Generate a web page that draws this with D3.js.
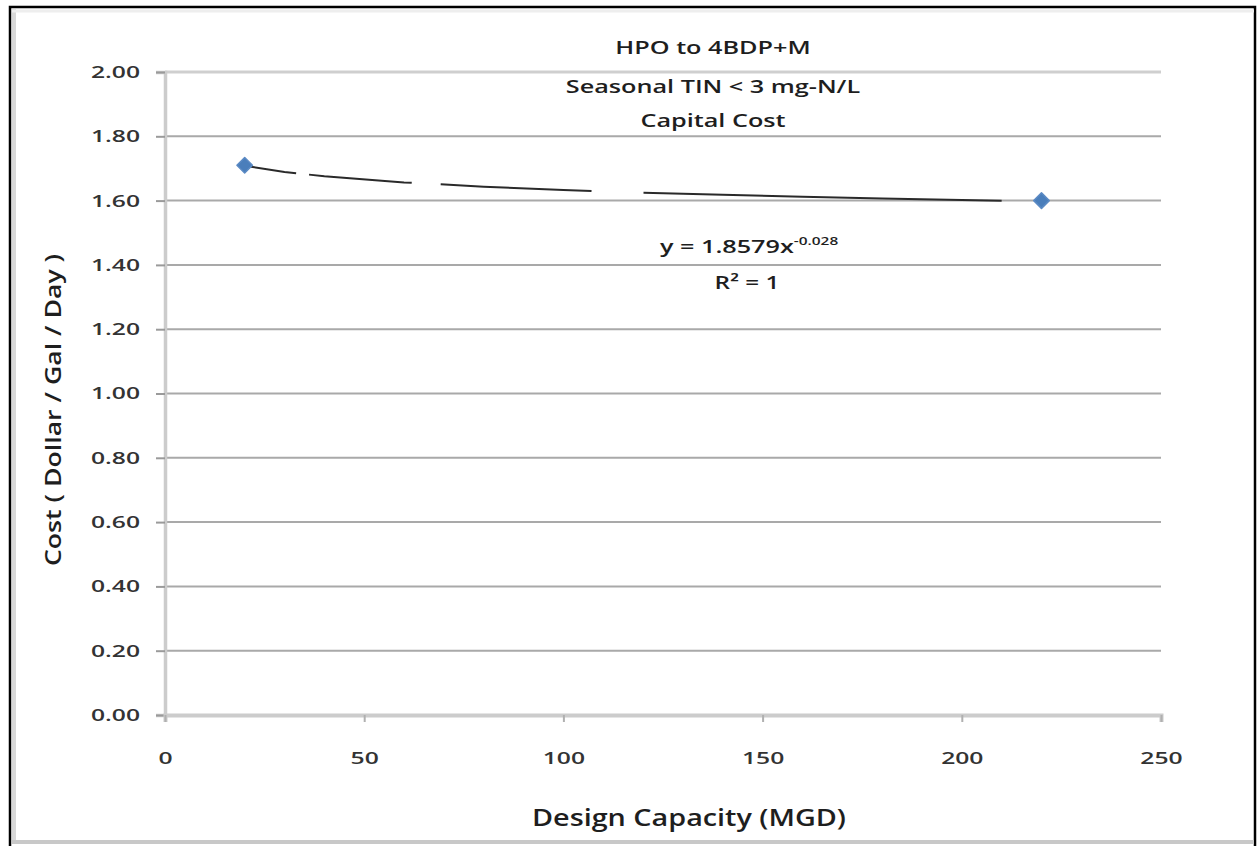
<!DOCTYPE html>
<html>
<head>
<meta charset="utf-8">
<script src="https://cdn.jsdelivr.net/npm/d3@7"></script>
<style>
html,body{margin:0;padding:0;background:#fff;}
svg{display:block;}
</style>
</head>
<body>
<svg id="chart" width="1257" height="846"></svg>
<script>
// ---- data ----
const titleLines = ["HPO to 4BDP+M", "Seasonal TIN < 3 mg-N/L", "Capital Cost"];
const capacity = [20, 220];          // Design Capacity (MGD)
const cost = [1.71, 1.60];           // Cost ($/gal/day)
const xTicks = [0, 50, 100, 150, 200, 250];
const yTicks = [0, 0.2, 0.4, 0.6, 0.8, 1.0, 1.2, 1.4, 1.6, 1.8, 2.0];
const trendCoef = 1.8579;
const trendExp = -0.028;
const trendSamples = [20, 30, 40, 60, 80, 100, 120, 140, 160, 180, 200, 210];
const trendLabel = ["y = 1.8579x", "-0.028"];
const r2Label = "R² = 1";
const xTitle = "Design Capacity (MGD)";
const yTitle = "Cost  ( Dollar / Gal / Day )";

const svg = d3.select("#chart");
const x = d3.scaleLinear().domain([0, 250]).range([165, 1161]);
const y = d3.scaleLinear().domain([0, 2]).range([715, 72]);
const FONT = "'Open Sans', sans-serif";

function stretch(sel, k) {
  sel.each(function () {
    const w = this.getComputedTextLength();
    d3.select(this).attr("textLength", w * k).attr("lengthAdjust", "spacingAndGlyphs");
  });
}

// outer frame
svg.append("rect").attr("x", 10).attr("y", 7).attr("width", 1245).attr("height", 845)
  .attr("fill", "#fff").attr("stroke", "#000").attr("stroke-width", 2.5);
// inner shadow
svg.append("line").attr("x1", 14).attr("x2", 14).attr("y1", 9).attr("y2", 842)
  .attr("stroke", "#d8d8d8").attr("stroke-width", 4);
svg.append("line").attr("x1", 12).attr("x2", 1254).attr("y1", 842).attr("y2", 842)
  .attr("stroke", "#c8c8c8").attr("stroke-width", 4);
svg.append("line").attr("x1", 12).attr("x2", 1254).attr("y1", 11).attr("y2", 11)
  .attr("stroke", "#eeeeee").attr("stroke-width", 3);

// gridlines
svg.append("g").selectAll("line").data(yTicks.filter(d => d > 0)).join("line")
  .attr("x1", x(0)).attr("x2", x(250))
  .attr("y1", d => y(d)).attr("y2", d => y(d))
  .attr("stroke", d => d === 2 ? "#cfcfcf" : "#a9a9a9")
  .attr("stroke-width", d => d === 2 ? 3 : 2);

// y axis
const yAxis = svg.append("g").attr("transform", `translate(${x(0)},0)`)
  .call(d3.axisLeft(y).tickValues(yTicks).tickFormat(d3.format(".2f")).tickSize(9).tickPadding(16));
yAxis.select(".domain").attr("stroke", "#cccccc").attr("stroke-width", 3.5);
yAxis.selectAll(".tick line").attr("stroke", "#9a9a9a").attr("stroke-width", 2);
yAxis.selectAll("text").attr("fill", "#333")
  .style("font-family", FONT).style("font-size", "17px").style("font-weight", 600)
  .call(stretch, 1.45);

// x axis
const xAxis = svg.append("g").attr("transform", `translate(0,${y(0)})`)
  .call(d3.axisBottom(x).tickValues(xTicks).tickSize(7).tickPadding(30));
xAxis.select(".domain").attr("stroke", "#cccccc").attr("stroke-width", 4);
xAxis.selectAll(".tick line").attr("stroke", "#b0b0b0").attr("stroke-width", 2);
xAxis.selectAll("text").attr("fill", "#333")
  .style("font-family", FONT).style("font-size", "17px").style("font-weight", 600)
  .call(stretch, 1.45);

// trendline (power fit shown in the chart)
const line = d3.line().x(d => x(d)).y(d => y(trendCoef * Math.pow(d, trendExp)));
svg.append("path").datum(trendSamples)
  .attr("d", line).attr("fill", "none").attr("stroke", "#2a2a2a")
  .attr("stroke-width", 2).attr("stroke-dasharray", "52,13,103,29,151,52,420");

// markers
const sym = d3.symbol().type(d3.symbolSquare).size(120);
svg.append("g").selectAll("path").data(capacity.map((c, i) => [c, cost[i]])).join("path")
  .attr("d", sym).attr("transform", d => `translate(${x(d[0])},${y(d[1])}) rotate(45)`)
  .attr("fill", "#4a7ebb").attr("stroke", "#5b8ac4").attr("stroke-width", 1.5)
  .attr("stroke-linejoin", "round");

// title
svg.append("g").selectAll("text").data(titleLines).join("text")
  .attr("x", 713).attr("y", (d, i) => [54, 93, 127][i])
  .attr("text-anchor", "middle").attr("fill", "#1e1e1e")
  .style("font-family", FONT).style("font-size", "18px").style("font-weight", 600)
  .text(d => d)
  .call(stretch, 1.4);

// trend equation
const eq = svg.append("text").attr("x", 660).attr("y", 253).attr("text-anchor", "start")
  .attr("fill", "#1e1e1e").style("font-family", FONT).style("font-size", "18px").style("font-weight", 600);
const eqMain = eq.append("tspan").text(trendLabel[0]);
const eqSup = eq.append("tspan").attr("dy", -8).style("font-size", "11px").text(trendLabel[1]);
stretch(eqMain, 1.4);
stretch(eqSup, 1.4);
svg.append("text").attr("x", 747).attr("y", 289).attr("text-anchor", "middle")
  .attr("fill", "#1e1e1e").style("font-family", FONT).style("font-size", "18px").style("font-weight", 600)
  .text(r2Label).call(stretch, 1.35);

// axis titles
svg.append("text").attr("x", 689).attr("y", 826).attr("text-anchor", "middle")
  .attr("fill", "#1e1e1e").style("font-family", FONT).style("font-size", "23px").style("font-weight", 600)
  .text(xTitle).call(stretch, 1.25);
svg.append("text").attr("transform", "translate(61,410) rotate(-90)").attr("text-anchor", "middle")
  .attr("fill", "#1e1e1e").style("font-family", FONT).style("font-size", "21px").style("font-weight", 600)
  .text(yTitle).call(stretch, 1.27);
</script>
</body>
</html>
